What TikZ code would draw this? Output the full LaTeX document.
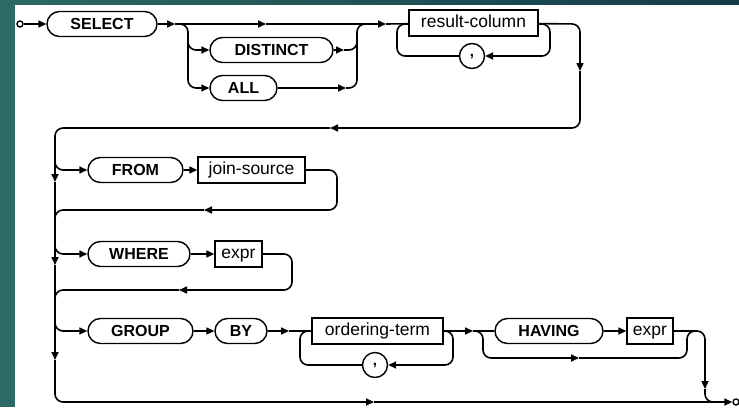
\documentclass[tikz,border=0pt]{standalone}
\usepackage{fontspec}
\setmainfont{Liberation Sans}
\usetikzlibrary{arrows.meta}
\definecolor{slideteal}{HTML}{2C6A65}
\definecolor{slidedark}{HTML}{143B47}
\tikzset{
  railline/.style={line width=1.6pt, rounded corners=8pt},
  railarr/.style={-{Triangle[length=8pt,width=7pt]}},
  kwbox/.style={draw, line width=1.4pt, rounded corners=12.5pt, minimum height=25pt, inner sep=0pt,
     text height=11.5pt, text depth=0pt,
     font=\bfseries\fontsize{16}{16}\selectfont},
  ntbox/.style={draw, line width=1.4pt, minimum height=26pt, inner sep=0pt,
     text height=12.5pt, text depth=3.5pt,
     font=\fontsize{17.5}{17.5}\selectfont},
  commabox/.style={draw, circle, line width=1.4pt, minimum size=25pt, inner sep=0pt,
     font=\bfseries\fontsize{15}{15}\selectfont},
  endpt/.style={draw, circle, line width=1.4pt, minimum size=6pt, inner sep=0pt, fill=white},
}
\begin{document}
\begin{tikzpicture}[x=1pt,y=-1pt]
\useasboundingbox (0,0) rectangle (739,407);
\fill[white] (0,0) rectangle (739,407);
\fill[slideteal] (0,0) rectangle (15,407);
\shade[left color=slideteal, right color=slidedark] (0,0) rectangle (739,4);

% nodes
\node[endpt] (start) at (20,24) {};
\node[kwbox, minimum width=110pt] (select) at (102,24) {SELECT};
\node[kwbox, minimum width=123pt] (distinct) at (271.5,50) {DISTINCT};
\node[kwbox, minimum width=67pt] (all) at (243.5,88) {ALL};
\node[ntbox, minimum width=129pt] (rescol) at (473.5,23) {result-column};
\node[commabox] (comma1) at (472,56) {\raisebox{-3pt}{,}};
\node[kwbox, minimum width=95pt] (from) at (135.5,170) {FROM};
\node[ntbox, minimum width=107pt] (jsrc) at (251.5,170) {join-source};
\node[kwbox, minimum width=102pt] (where) at (139,254) {WHERE};
\node[ntbox, minimum width=47pt] (expra) at (238.5,254) {expr};
\node[kwbox, minimum width=105pt] (group) at (140.5,331) {GROUP};
\node[kwbox, minimum width=52pt] (by) at (241,331) {BY};
\node[ntbox, minimum width=131pt] (oterm) at (377.5,331) {ordering-term};
\node[commabox] (comma2) at (375,365) {\raisebox{-3pt}{,}};
\node[kwbox, minimum width=108pt] (having) at (549,331) {HAVING};
\node[ntbox, minimum width=46pt] (exprb) at (650,331) {expr};
\node[endpt] (stop) at (736,402) {};

% row 1
\coordinate (a0) at (175,24);
\coordinate (a1) at (266,24);
\coordinate (a2) at (386,24);
\draw[railline,railarr] (start) -- (select);
\draw[railline,railarr] (select) -- (a0);
\draw[railline,railarr] (a0) -- (a1);
\draw[railline,railarr] (a1) -- (a2);
\draw[railline] (a2) -- (rescol);
\draw[railline,railarr] (a0) -- (188,24) -- (188,50) -- (distinct);
\draw[railline,railarr] (188,40) -- (188,88) -- (all);
\coordinate (d1) at (344,50);
\coordinate (d2) at (346,88);
\draw[railline,railarr] (distinct) -- (d1);
\draw[railline] (d1) -- (357,50) -- (357,24) -- (367,24);
\draw[railline,railarr] (all) -- (d2);
\draw[railline] (d2) -- (357,88) -- (357,40);
% result-column loop
\draw[railline] (comma1) -- (397,56) -- (397,24) -- (409,24);
\draw[railline,railarr] (538,24) -- (550,24) -- (550,56) -- (comma1);
% down to FROM line
\coordinate (r1) at (580,71);
\coordinate (r2) at (330,128);
\coordinate (v1) at (55,182);
\coordinate (v2) at (55,265);
\coordinate (v3) at (55,360);
\draw[railline,railarr] (rescol) -- (580,24) -- (r1);
\draw[railline,railarr] (r1) -- (580,128) -- (r2);
\draw[railline,railarr] (r2) -- (55,128) -- (v1);
\draw[railline,railarr] (v1) -- (v2);
\draw[railline,railarr] (v2) -- (v3);
% FROM
\draw[railline,railarr] (55,160) -- (55,170) -- (from);
\draw[railline,railarr] (from) -- (jsrc);
\coordinate (r3) at (204,210);
\draw[railline,railarr] (jsrc) -- (337,170) -- (337,210) -- (r3);
\draw[railline] (r3) -- (55,210) -- (55,222);
% WHERE
\draw[railline,railarr] (55,244) -- (55,254) -- (where);
\draw[railline,railarr] (where) -- (expra);
\coordinate (r4) at (179,290);
\draw[railline,railarr] (expra) -- (292,254) -- (292,290) -- (r4);
\draw[railline] (r4) -- (55,290) -- (55,302);
% GROUP BY
\draw[railline,railarr] (55,321) -- (55,331) -- (group);
\draw[railline,railarr] (group) -- (by);
\coordinate (g1) at (289,331);
\draw[railline,railarr] (by) -- (g1);
\draw[railline] (g1) -- (oterm);
\draw[railline] (comma2) -- (300,365) -- (300,331) -- (312,331);
\draw[railline,railarr] (443,331) -- (453,331) -- (453,365) -- (comma2);
\coordinate (g2) at (473,331);
\draw[railline,railarr] (oterm) -- (g2);
\draw[railline] (g2) -- (having);
\draw[railline,railarr] (having) -- (exprb);
\coordinate (h1) at (579,358);
\draw[railline,railarr] (g2) -- (483,331) -- (483,358) -- (h1);
\draw[railline] (h1) -- (687,358) -- (687,331) -- (697,331);
\coordinate (h2) at (705,389);
\draw[railline,railarr] (exprb) -- (705,331) -- (h2);
\draw[railline] (h2) -- (705,402) -- (717,402);
% bottom line
\coordinate (b1) at (374,402);
\draw[railline,railarr] (v3) -- (55,402) -- (b1);
\draw[railline,railarr] (b1) -- (stop);
\end{tikzpicture}
\end{document}
